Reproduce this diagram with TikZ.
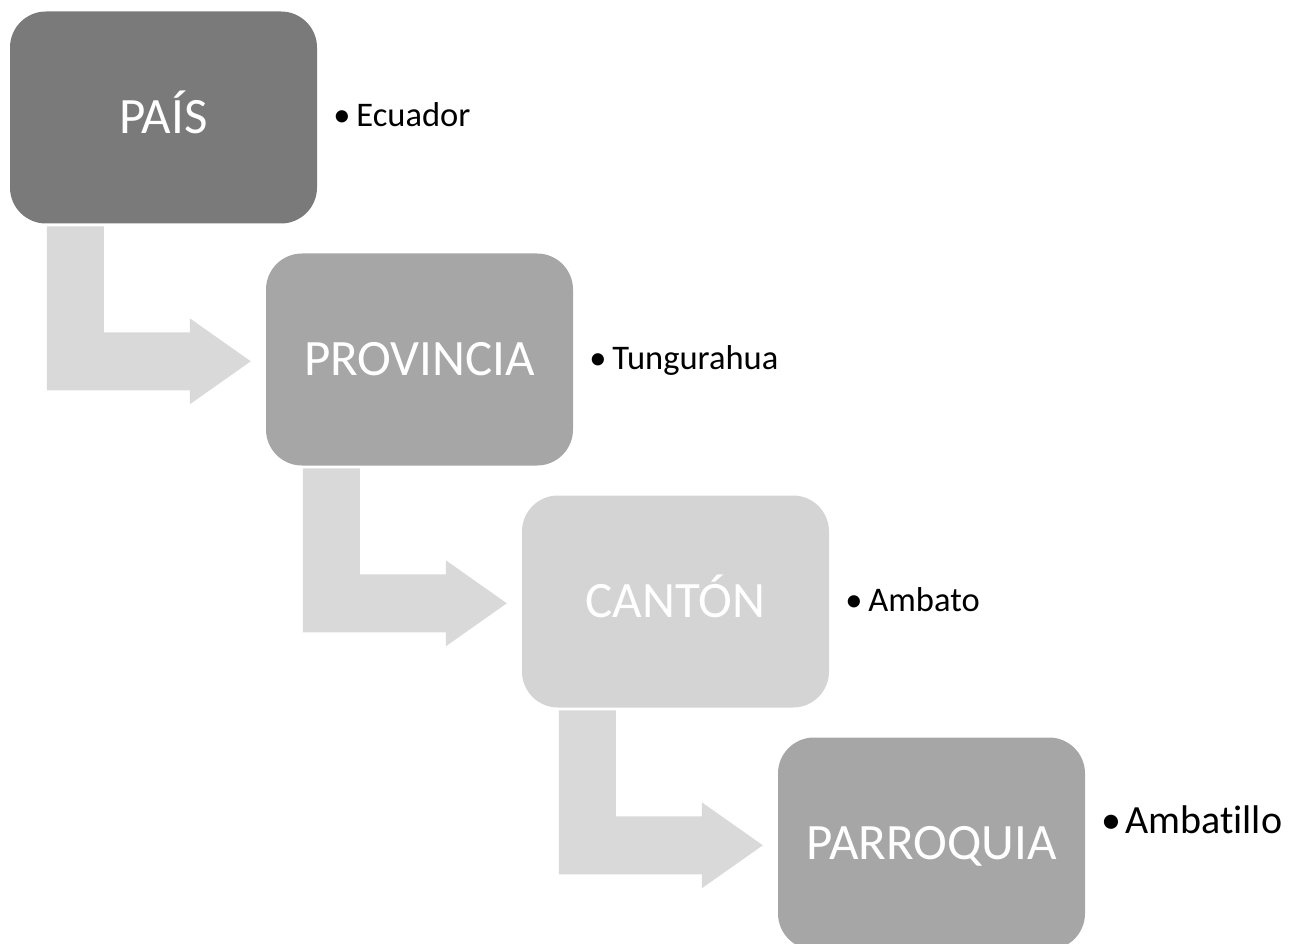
\documentclass[tikz,border=0pt]{standalone}
\usepackage{fontspec}
\setmainfont{Carlito}[RawFeature={-liga;-clig}]
\usetikzlibrary{calc}
\definecolor{boxA}{HTML}{7A7A7A}
\definecolor{boxB}{HTML}{A6A6A6}
\definecolor{boxC}{HTML}{D4D4D4}
\definecolor{arrowgray}{HTML}{D9D9D9}
\tikzset{
  levelbox/.style={fill=#1, draw=none, rounded corners=36pt, minimum width=307pt, minimum height=212pt,
    inner sep=0pt, text height=32.8pt, text depth=0pt, text=white, font=\fontsize{51}{60}\selectfont},
  bulletlabel/.style={anchor=base west, inner sep=0pt, text=black, font=\fontsize{34.5}{40}\selectfont},
  bentarrow/.style={fill=arrowgray, draw=none}
}
\newcommand{\bentarrowfrom}[1]{%
  \fill[arrowgray] ($(#1.north west)+(37,215)$) -- ++(57,0) -- ++(0,106) -- ++(86,0)
    -- ++(0,-14) -- ++(61,43) -- ++(-61,43) -- ++(0,-14) -- ++(-143,0) -- cycle;}
\begin{document}
\begin{tikzpicture}[x=1pt,y=-1pt]
\useasboundingbox (0,0) rectangle (1296,944);
\clip (0,0) rectangle (1296,944);
\node[levelbox=boxA] (pais) at (163.5,117.5) {PAÍS};
\node[levelbox=boxB] (prov) at (419.5,359.5) {PROVINCIA};
\node[levelbox=boxC] (canton) at (675.5,601.5) {CANTÓN};
\node[levelbox=boxB] (parr) at (931.5,843.5) {PARROQUIA};
\bentarrowfrom{pais}
\bentarrowfrom{prov}
\bentarrowfrom{canton}
\node[bulletlabel] (l1) at ($(pais.east)+(16,9.5)$) {•\hspace{0.17em}Ecuador};
\node[bulletlabel] (l2) at ($(prov.east)+(16,9.5)$) {•\hspace{0.17em}Tungurahua};
\node[bulletlabel] (l3) at ($(canton.east)+(16,9.5)$) {•\hspace{0.17em}Ambato};
\node[bulletlabel, font=\fontsize{40}{48}\selectfont] (l4) at ($(parr.east)+(16,-10.5)$) {•\hspace{0.1em}Ambatillo};
\end{tikzpicture}
\end{document}
